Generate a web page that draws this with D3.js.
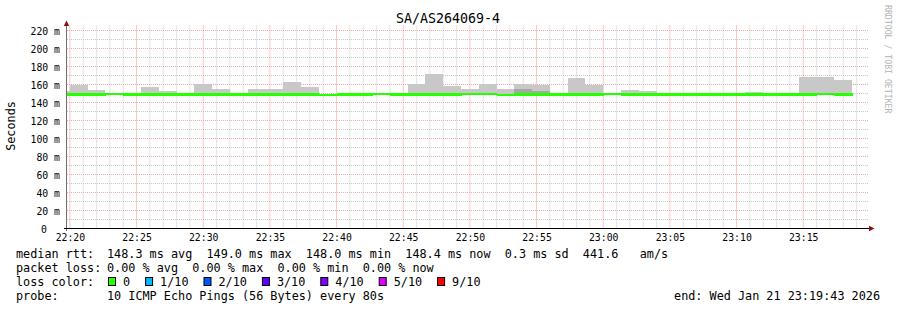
<!DOCTYPE html>
<html>
<head>
<meta charset="utf-8">
<title>SA/AS264069-4</title>
<script src="https://cdn.jsdelivr.net/npm/d3@7"></script>
<style>
  body { margin: 0; background: #fff; }
  svg { display: block; }
  text { font-family: "DejaVu Sans Mono", monospace; fill: #000; }
</style>
</head>
<body>
<script>
// smokeping steps: 80 s each, first one starts before the window
var firstStep = "22:18:40";
var stepSeconds = 80;

// median rtt per step (ms)
var median = [148.3, 148.5, 148.5, 149.0, 148.5, 148.5, 148.1, 148.1, 148.1, 148.1,
              148.2, 148.1, 148.1, 148.1, 148.1, 148.0, 148.1, 148.1, 149.0, 148.1,
              148.1, 148.6, 148.2, 148.7, 149.0, 148.0, 148.2, 148.1, 148.2, 148.2,
              148.4, 148.8, 148.2, 148.6, 148.1, 148.1, 148.1, 148.1, 148.1, 148.1,
              148.1, 148.1, 148.1, 148.9, 148.4];
// smoke extent per step (ms)
var smokeMax = [151.7, 159.2, 153.7, 149.6, 150.3, 156.3, 152.6, 148.8, 160.3, 154.8,
                149.3, 154.8, 154.8, 162.6, 156.3, 148.8, 148.8, 148.8, 149.6, 148.8,
                160.3, 171.4, 157.4, 154.8, 160.3, 154.8, 160.3, 159.2, 150.3, 167.0,
                159.2, 149.5, 153.7, 152.6, 148.8, 150.3, 149.2, 148.8, 148.8, 151.4,
                150.3, 149.2, 168.0, 168.0, 164.8];
var smokeMin = [147.3, 147.4, 147.4, 147.8, 147.4, 147.4, 147.2, 147.2, 147.2, 147.2,
                147.3, 147.2, 147.2, 147.2, 147.2, 147.1, 147.2, 147.2, 147.8, 147.2,
                147.2, 147.5, 147.3, 147.6, 147.8, 147.1, 147.3, 147.2, 147.3, 147.3,
                147.4, 147.7, 147.3, 147.5, 147.2, 147.2, 147.2, 147.2, 147.2, 147.2,
                147.2, 147.2, 147.2, 147.8, 147.4];
// darker inner smoke (steps where it shows above the median)
var darkStep = [26, 27];
var darkLo = [148.0, 147.7];
var darkHi = [154.8, 152.5];

var yTicks = [0, 20, 40, 60, 80, 100, 120, 140, 160, 180, 200, 220];
var xTicks = ["22:20", "22:25", "22:30", "22:35", "22:40", "22:45", "22:50",
              "22:55", "23:00", "23:05", "23:10", "23:15"];

var lossLabels = ["0", "1/10", "2/10", "3/10", "4/10", "5/10", "9/10"];
var lossColors = ["#26ff00", "#00b8ff", "#0059ff", "#5e00ff", "#7e00ff", "#dd00ff", "#ff0000"];

var statRows = [
  ["median rtt:", "148.3 ms avg  149.0 ms max  148.0 ms min  148.4 ms now  0.3 ms sd  441.6   am/s"],
  ["packet loss:", "0.00 % avg  0.00 % max  0.00 % min  0.00 % now"]
];
var probeText = "10 ICMP Echo Pings (56 Bytes) every 80s";
var endText = "end: Wed Jan 21 23:19:43 2026";
var title = "SA/AS264069-4";

var width = 897;
var height = 310;
var plotLeft = 67, plotRight = 867, plotTop = 25.5, plotBottom = 228;

function secs(s) {
  var p = s.split(":");
  return (+p[0]) * 3600 + (+p[1]) * 60 + (+(p[2] || 0));
}

var x = d3.scaleLinear()
    .domain([secs("22:19:47"), secs("23:19:47")])
    .range([plotLeft, plotRight]);

var y = d3.scaleLinear()
    .domain([0, 225])
    .range([plotBottom, plotTop]);

var steps = median.map(function(m, i) {
  var t = secs(firstStep) + i * stepSeconds;
  return { t0: t, t1: t + stepSeconds, median: m, max: smokeMax[i], min: smokeMin[i] };
});

var svg = d3.select("body")
    .append("svg")
    .attr("width", width)
    .attr("height", height);

svg.append("rect")
    .attr("width", width)
    .attr("height", height)
    .attr("fill", "#fff");

svg.append("clipPath")
    .attr("id", "plot")
  .append("rect")
    .attr("x", plotLeft)
    .attr("y", plotTop)
    .attr("width", plotRight - plotLeft)
    .attr("height", plotBottom - plotTop);

// grid
var grid = svg.append("g");
var minorX = d3.range(secs("22:20:00"), x.domain()[1], 60).filter(function(t) { return t % 300 != 0; });
var majorX = d3.range(secs("22:20:00"), x.domain()[1], 300);
var minorY = d3.range(10, 225, 10).filter(function(v) { return v % 20 != 0; });
var majorY = d3.range(20, 225, 20);

grid.selectAll(".minx").data(minorX).enter().append("line")
    .attr("x1", x).attr("x2", x)
    .attr("y1", plotTop).attr("y2", plotBottom)
    .attr("stroke", "#c8c8c8").attr("stroke-dasharray", "1,1");
grid.selectAll(".miny").data(minorY).enter().append("line")
    .attr("x1", plotLeft).attr("x2", plotRight + 1)
    .attr("y1", function(d) { return Math.round(y(d)) + 0.5; })
    .attr("y2", function(d) { return Math.round(y(d)) + 0.5; })
    .attr("stroke", "#c8c8c8").attr("stroke-dasharray", "1,1");
grid.selectAll(".majx").data(majorX).enter().append("line")
    .attr("x1", x).attr("x2", x)
    .attr("y1", plotTop).attr("y2", plotBottom)
    .attr("stroke", "#ee9090").attr("stroke-dasharray", "1,1");
grid.selectAll(".majy").data(majorY).enter().append("line")
    .attr("x1", plotLeft).attr("x2", plotRight + 1)
    .attr("y1", function(d) { return Math.round(y(d)) + 0.5; })
    .attr("y2", function(d) { return Math.round(y(d)) + 0.5; })
    .attr("stroke", "#f0a8a8").attr("stroke-dasharray", "1,1");

// smoke + median
var plot = svg.append("g").attr("clip-path", "url(#plot)");

plot.selectAll(".smoke").data(steps).enter().append("rect")
    .attr("x", function(d) { return x(d.t0); })
    .attr("width", function(d) { return x(d.t1) - x(d.t0); })
    .attr("y", function(d) { return y(d.max); })
    .attr("height", function(d) { return y(d.min) - y(d.max); })
    .attr("fill", "#c8c8c8")
    .attr("shape-rendering", "crispEdges");

plot.selectAll(".dark").data(darkStep).enter().append("rect")
    .attr("x", function(d) { return x(steps[d].t0); })
    .attr("width", function(d) { return x(steps[d].t1) - x(steps[d].t0); })
    .attr("y", function(d, i) { return y(darkHi[i]); })
    .attr("height", function(d, i) { return y(darkLo[i]) - y(darkHi[i]); })
    .attr("fill", "#a8a8a8")
    .attr("shape-rendering", "crispEdges");

var swidth = 1.4;
plot.selectAll(".median").data(steps).enter().append("rect")
    .attr("x", function(d) { return x(d.t0); })
    .attr("width", function(d) { return x(d.t1) - x(d.t0) + 0.5; })
    .attr("y", function(d) { return y(d.median + swidth); })
    .attr("height", function(d) { return y(d.median - swidth) - y(d.median + swidth); })
    .attr("fill", lossColors[0])
    .attr("shape-rendering", "crispEdges");

// axes
svg.append("line")
    .attr("x1", 66.5).attr("x2", 66.5)
    .attr("y1", 231).attr("y2", 24)
    .attr("stroke", "#707070");
svg.append("line")
    .attr("x1", 64).attr("x2", 870)
    .attr("y1", plotBottom + 0.5).attr("y2", plotBottom + 0.5)
    .attr("stroke", "#000");
svg.append("path")
    .attr("d", "M66.5,20.5L63.8,26L69.2,26Z")
    .attr("fill", "#8b1010");
svg.append("path")
    .attr("d", "M874.5,228.5L869,225.8L869,231.2Z")
    .attr("fill", "#8b1010");

var xAxis = d3.axisBottom(x)
    .tickValues(xTicks.map(secs))
    .tickSize(0)
    .tickPadding(6)
    .tickFormat(function(d, i) { return xTicks[i]; });
svg.append("g")
    .attr("transform", "translate(0," + plotBottom + ")")
    .call(xAxis)
    .call(function(g) { g.select(".domain").remove(); })
    .selectAll("text")
    .attr("font-family", "DejaVu Sans Mono")
    .attr("font-size", "9.8px")
    .attr("fill", "#000");

var yAxis = d3.axisLeft(y)
    .tickValues(yTicks)
    .tickSize(0)
    .tickPadding(7)
    .tickFormat(function(d) { return d === 0 ? "0" : d + " m"; });
svg.append("g")
    .attr("transform", "translate(" + plotLeft + ",0)")
    .call(yAxis)
    .call(function(g) { g.select(".domain").remove(); })
    .selectAll("text")
    .attr("font-family", "DejaVu Sans Mono")
    .attr("font-size", "9.8px")
    .attr("fill", "#000")
    .attr("dy", "0.45em")
    .attr("x", function(d) { return d === 0 ? -20 : -7; });

// title, unit, watermark
svg.append("text")
    .attr("x", 448).attr("y", 23)
    .attr("text-anchor", "middle")
    .attr("font-size", "13.3px")
    .text(title);

svg.append("text")
    .attr("transform", "translate(15,126) rotate(-90)")
    .attr("text-anchor", "middle")
    .attr("font-size", "11.8px")
    .text("Seconds");

svg.append("text")
    .attr("transform", "translate(884.5,5) rotate(90)")
    .attr("font-size", "8.2px")
    .style("fill", "#b4b4b4")
    .text("RRDTOOL / TOBI OETIKER");

// legend
var legend = svg.append("g")
    .attr("font-size", "11.8px");

statRows.forEach(function(r, i) {
  legend.append("text")
      .attr("x", 16).attr("y", 258 + i * 14)
      .text(r[0]);
  legend.append("text")
      .attr("x", 107).attr("y", 258 + i * 14)
      .attr("xml:space", "preserve")
      .style("white-space", "pre")
      .text(r[1]);
});

legend.append("text")
    .attr("x", 16).attr("y", 286)
    .text("loss color:");

var cursor = 108;
lossLabels.forEach(function(l, i) {
  legend.append("rect")
      .attr("x", cursor + 0.5).attr("y", 277.5)
      .attr("width", 7).attr("height", 8)
      .attr("fill", lossColors[i])
      .attr("stroke", "#000")
      .attr("stroke-width", 1);
  legend.append("text")
      .attr("x", cursor + 15).attr("y", 286)
      .text(l);
  cursor += 15 + l.length * 7.1 + 15;
});

legend.append("text")
    .attr("x", 16).attr("y", 300)
    .text("probe:");
legend.append("text")
    .attr("x", 107).attr("y", 300)
    .text(probeText);
legend.append("text")
    .attr("x", 880).attr("y", 300)
    .attr("text-anchor", "end")
    .text(endText);
</script>
</body>
</html>
